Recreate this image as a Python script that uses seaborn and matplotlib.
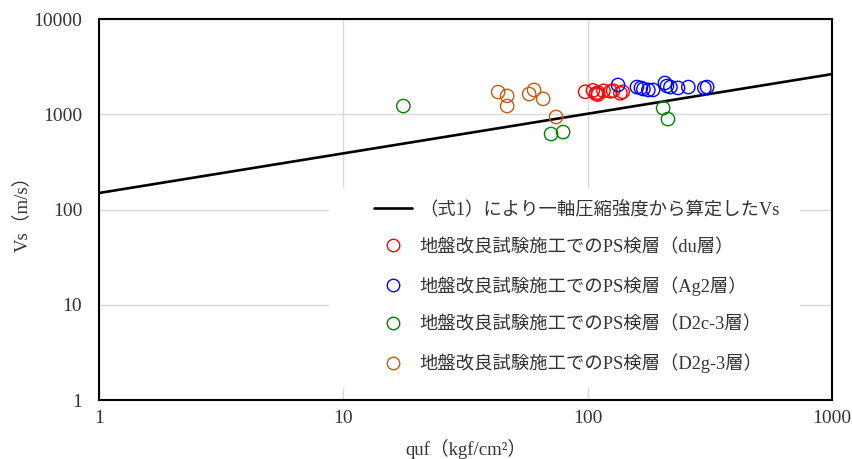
import numpy as np
import pandas as pd
import matplotlib
matplotlib.use('Agg')
import matplotlib.pyplot as plt
import matplotlib.ticker as mticker
from matplotlib.lines import Line2D
from matplotlib.patches import Rectangle
import seaborn as sns

# -----------------------------
# Data
# -----------------------------

# line from (式1): quf vs Vs, end points
line_quf = [1, 1000]
line_vs = [149, 2640]

du_quf = [97.6, 105, 108, 110, 110, 116, 124, 127, 136, 139]
du_vs = [1720, 1780, 1640, 1690, 1610, 1760, 1740, 1770, 1660, 1720]

ag2_quf = [133, 159, 165, 169, 177, 185, 207, 211, 218, 234, 258, 300, 308]
ag2_vs = [2030, 1930, 1890, 1840, 1800, 1800, 2130, 1980, 1930, 1890, 1930, 1890, 1930]

d2c_quf = [17.6, 70.8, 79.3, 203.5, 213]
d2c_vs = [1220, 620, 650, 1160, 890]

d2g_quf = [43.0, 46.8, 46.8, 57.6, 60.3, 65.7, 74.2]
d2g_vs = [1710, 1560, 1220, 1630, 1800, 1450, 936]

labels = [
    '（式1）により一軸圧縮強度から算定したVs',
    '地盤改良試験施工でのPS検層（du層）',
    '地盤改良試験施工でのPS検層（Ag2層）',
    '地盤改良試験施工でのPS検層（D2c-3層）',
    '地盤改良試験施工でのPS検層（D2g-3層）',
]
colors = ['#FF0000', '#0000FF', '#008000', '#C55A11']

x_ticks = [1, 10, 100, 1000]
y_ticks = [1, 10, 100, 1000, 10000]

# -----------------------------
# Style
# -----------------------------

sns.set_style('white')
plt.rcParams['font.family'] = ['Liberation Serif', 'Noto Sans CJK JP']
text_color = '#333333'

fig = plt.figure(figsize=(8.53, 4.59), dpi=100)
ax = fig.add_axes([0.116, 0.1285, 0.8595, 0.8301])

ax.set_xscale('log')
ax.set_yscale('log')
ax.set_xlim(1, 1000)
ax.set_ylim(1, 10000)

# -----------------------------
# Plot
# -----------------------------

line_df = pd.DataFrame({'quf': line_quf, 'Vs': line_vs})
sns.lineplot(data=line_df, x='quf', y='Vs', color='black', linewidth=1.9,
             ax=ax, zorder=3)

groups = [(du_quf, du_vs), (ag2_quf, ag2_vs), (d2c_quf, d2c_vs), (d2g_quf, d2g_vs)]
for (qx, vy), c in zip(groups, colors):
    pts = pd.DataFrame({'quf': qx, 'Vs': vy})
    n0 = len(ax.collections)
    sns.scatterplot(data=pts, x='quf', y='Vs', ax=ax, s=92, marker='o',
                    color=c, linewidth=1.0, zorder=4)
    for coll in ax.collections[n0:]:
        coll.set_facecolor('none')
        coll.set_edgecolor(c)

# -----------------------------
# Axes formatting
# -----------------------------

ax.set_axisbelow(True)
ax.grid(True, which='major', color='#D9D9D9', linewidth=1.0)
ax.grid(False, which='minor')

fmt = mticker.FuncFormatter(lambda v, _: f'{v:g}')
ax.set_xticks(x_ticks)
ax.set_yticks(y_ticks)
ax.xaxis.set_major_formatter(fmt)
ax.yaxis.set_major_formatter(fmt)
ax.yaxis.set_minor_locator(mticker.NullLocator())
ax.xaxis.set_minor_locator(mticker.LogLocator(base=10, subs=np.arange(2, 10)))
ax.xaxis.set_minor_formatter(mticker.NullFormatter())

ax.tick_params(axis='x', which='major', direction='out', length=5, width=1.2,
               color='black', labelsize=14, labelcolor=text_color, pad=2)
ax.tick_params(axis='x', which='minor', direction='out', length=3, width=1.0,
               color='black')
ax.tick_params(axis='y', which='major', length=0, labelsize=14,
               labelcolor=text_color, pad=12)

for side in ['left', 'bottom', 'top', 'right']:
    ax.spines[side].set_visible(True)
    ax.spines[side].set_color('black')
    ax.spines[side].set_linewidth(1.5)

ax.set_xlabel('quf（kgf/cm²）', fontsize=13.5, color=text_color, labelpad=9)
ax.set_ylabel('Vs（m/s）', fontsize=13.5, color=text_color, labelpad=2)

# -----------------------------
# Legend
# -----------------------------

ax.add_patch(Rectangle((0.314, 0.031), 0.642, 0.526, transform=ax.transAxes,
                       facecolor='white', edgecolor='none', zorder=1.5))

handles = [Line2D([], [], color='black', linewidth=1.9)]
for c in colors:
    handles.append(Line2D([], [], marker='o', linestyle='none',
                          markerfacecolor='none', markeredgecolor=c,
                          markersize=9, markeredgewidth=1.0))

leg = ax.legend(handles, labels, loc='upper left', bbox_to_anchor=(0.375, 0.524),
                frameon=False, fontsize=13.2, handlelength=2.1, handletextpad=0.4,
                labelspacing=1.1, borderpad=0, borderaxespad=0)
for t in leg.get_texts():
    t.set_color(text_color)

fig.savefig('out.png', dpi=100)
